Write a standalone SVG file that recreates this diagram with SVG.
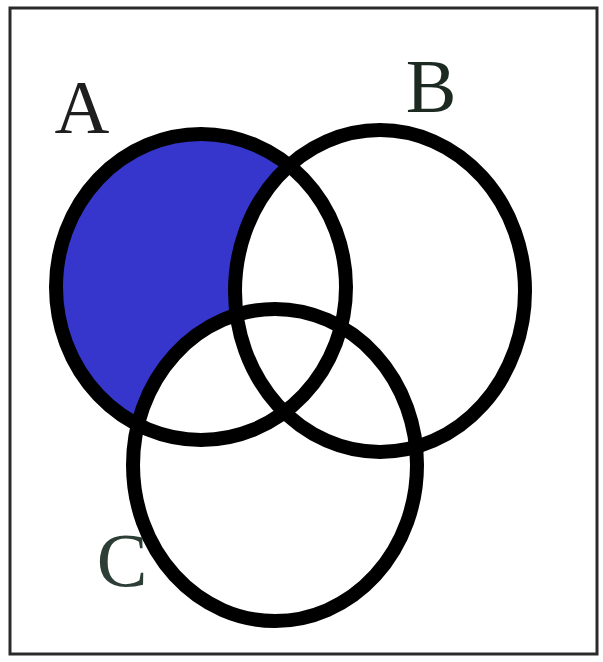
<svg xmlns="http://www.w3.org/2000/svg" width="603" height="662" viewBox="0 0 603 662">
<style>
.ring{fill:none;stroke:#000;stroke-width:14}
.lbl{font-family:"Liberation Serif","Times New Roman",serif;font-size:76px;text-anchor:middle}
</style>
<defs>
<mask id="onlyA" maskUnits="userSpaceOnUse" x="0" y="0" width="603" height="662">
<rect x="0" y="0" width="603" height="662" fill="#fff"/>
<ellipse cx="380" cy="291" rx="145" ry="161" fill="#000"/>
<ellipse cx="275" cy="465" rx="142" ry="156" fill="#000"/>
</mask>
</defs>
<rect x="0" y="0" width="603" height="662" fill="#fff"/>
<rect id="frame" x="10" y="8" width="587" height="646" fill="none" stroke="#2a2a2a" stroke-width="3"/>
<g id="A">
<ellipse cx="201" cy="287" rx="145" ry="153" fill="#3636cc" mask="url(#onlyA)"/>
<ellipse class="ring" cx="201" cy="287" rx="145" ry="153"/>
<text class="lbl" x="82" y="133" fill="#1e1e1e">A</text>
</g>
<g id="B">
<ellipse class="ring" cx="380" cy="291" rx="145" ry="161"/>
<text class="lbl" x="431" y="112" fill="#1c2a22">B</text>
</g>
<g id="C">
<ellipse class="ring" cx="275" cy="465" rx="142" ry="156"/>
<text class="lbl" x="122" y="586" fill="#2c3e36">C</text>
</g>
<g id="connectors"/>
</svg>
